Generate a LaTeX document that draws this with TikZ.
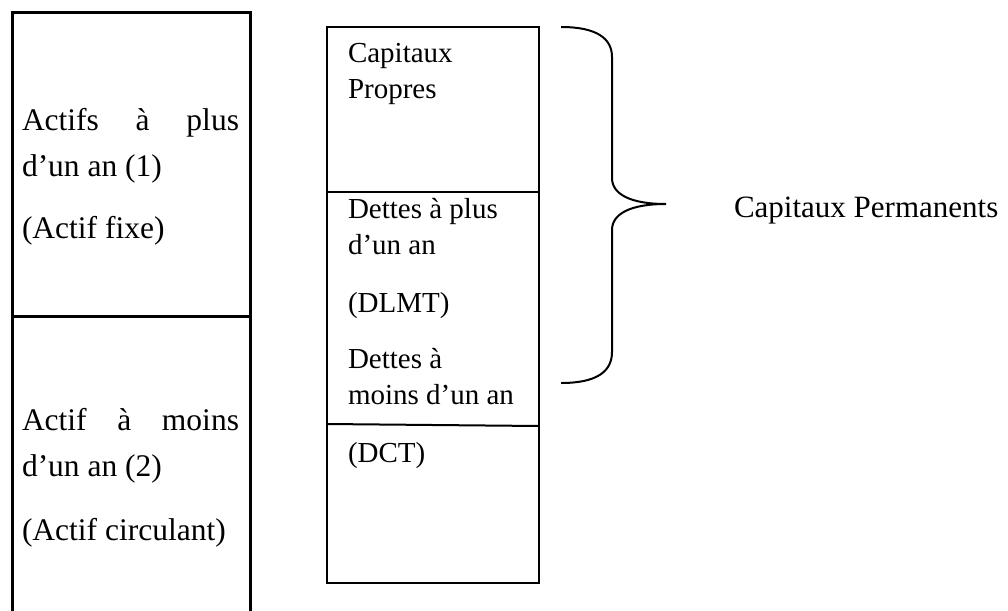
\documentclass[tikz,border=0pt]{standalone}
\usepackage{fontspec}
\setmainfont{Liberation Serif}
\begin{document}
\begin{tikzpicture}[x=1pt,y=-1pt,
  lbl/.style={anchor=base west,inner sep=0pt,outer sep=0pt},
  asset/.style={lbl,font=\fontsize{31.5}{36}\selectfont},
  liab/.style={lbl,font=\fontsize{29}{34}\selectfont},
  sumtext/.style={lbl,font=\fontsize{31}{36}\selectfont},
  assetbox/.style={line width=3pt},
  liabbox/.style={line width=2pt},
  bracepath/.style={line width=2pt}]
\clip (0,0) rectangle (1008,610);
\fill[white] (0,0) rectangle (1008,610);

% asset column (left), open at the bottom
\draw[assetbox] (12,620) -- (12,13) -- (250,13) -- (250,620);
\draw[assetbox] (12,316) -- (250,316);

\node[asset] (a1) at (22,130) {\makebox[217pt][s]{Actifs\hfill à\hfill plus}};
\node[asset] (a2) at (22,176) {d’un an (1)};
\node[asset] (a3) at (22,238) {(Actif fixe)};
\node[asset] (b1) at (22,430) {\makebox[217pt][s]{Actif\hfill à\hfill moins}};
\node[asset] (b2) at (22,476) {d’un an (2)};
\node[asset] (b3) at (22,540) {(Actif circulant)};

% liabilities column (right)
\draw[liabbox] (327,27) rectangle (539,583);
\draw[liabbox] (327,192) -- (539,192);
\draw[liabbox] (327,424) -- (539,426);

\node[liab] (c1) at (348,63) {Capitaux};
\node[liab] (c2) at (348,98) {Propres};
\node[liab] (d1) at (348,218) {Dettes à plus};
\node[liab] (d2) at (348,254) {d’un an};
\node[liab] (d3) at (348,312) {(DLMT)};
\node[liab] (e1) at (348,368) {Dettes à};
\node[liab] (e2) at (348,404) {moins d’un an};
\node[liab] (e3) at (348,462) {(DCT)};

% right brace grouping the permanent capital
\coordinate (btop) at (561,27);
\coordinate (btip) at (666,204);
\coordinate (bbot) at (561,383);
\draw[bracepath] (btop) .. controls (596,27) and (612,38) .. (612,57)
  -- (612,178) .. controls (612,194) and (630,204) .. (btip)
  .. controls (630,204) and (612,214) .. (612,230)
  -- (612,352) .. controls (612,372) and (596,383) .. (bbot);

\node[sumtext] (cp) at (734,217) {Capitaux Permanents};
\end{tikzpicture}
\end{document}
